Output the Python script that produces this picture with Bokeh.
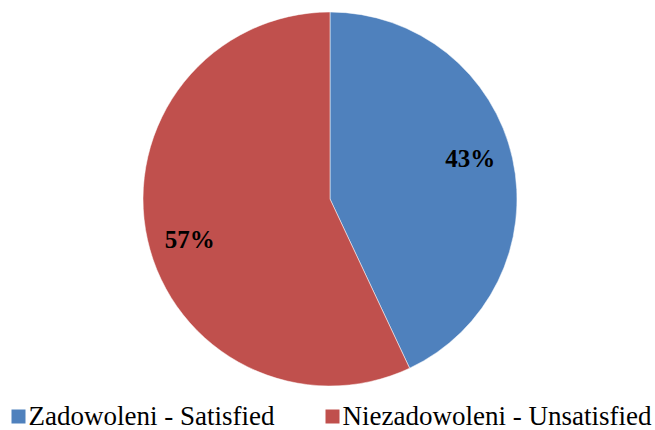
import math
from bokeh.plotting import figure
from bokeh.models import Range1d, ColumnDataSource
from bokeh.core.properties import value
from bokeh.embed import file_html
from bokeh.resources import INLINE

categories = ["Zadowoleni - Satisfied", "Niezadowoleni - Unsatisfied"]
shares = [43, 57]
colors = ["#4F81BD", "#C0504D"]
labels = ["43%", "57%"]

W, H = 655, 430
p = figure(width=W, height=H, output_backend="svg", toolbar_location=None,
           x_range=Range1d(0, W), y_range=Range1d(0, H),
           min_border=0, outline_line_color=None, background_fill_color="white",
           border_fill_color="white")
p.axis.visible = False
p.grid.visible = False

cx, cy, r = 329.5, H - 198.5, 187.0
total = sum(shares)
starts, ends, lx, ly = [], [], [], []
cum = 0.0
for s in shares:
    a0 = math.pi / 2 - 2 * math.pi * cum / total
    a1 = math.pi / 2 - 2 * math.pi * (cum + s) / total
    starts.append(a1)
    ends.append(a0)
    mid = (a0 + a1) / 2 + math.radians(3.5)
    lx.append(cx + 0.78 * r * math.cos(mid))
    ly.append(cy + 0.78 * r * math.sin(mid))
    cum += s

src = ColumnDataSource(dict(start=starts, end=ends, color=colors, lx=lx, ly=ly, label=labels))
p.wedge(x=cx, y=cy, radius=r, start_angle="start", end_angle="end",
        fill_color="color", line_color="white", line_width=0.5, source=src)
p.text(x="lx", y="ly", text="label", source=src, text_font=value("Liberation Serif"),
       text_font_style="bold", text_font_size="25px", text_align="center",
       text_baseline="middle", text_color="black")

# legend
sq_x = [18, 332]
txt_x = [28, 342]
p.rect(x=sq_x, y=[H - 416] * 2, width=14, height=14, fill_color=colors, line_color=None)
p.text(x=txt_x, y=[H - 415] * 2, text=categories,
       text_font=value("Liberation Serif"), text_font_size="27px",
       text_align="left", text_baseline="middle", text_color="black")

open("out.html", "w").write(file_html(p, INLINE))
